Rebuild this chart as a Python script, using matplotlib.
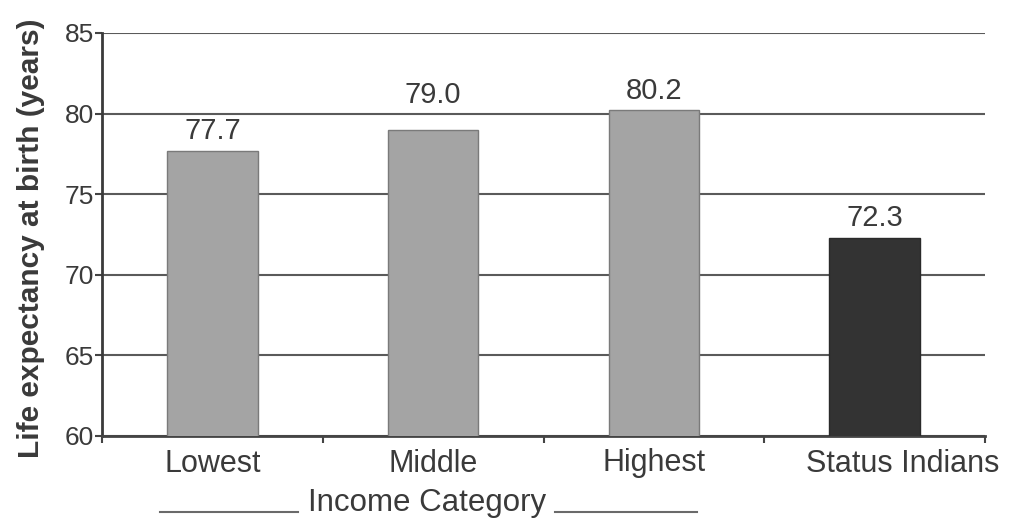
import matplotlib
matplotlib.use("Agg")
import matplotlib.pyplot as plt
import matplotlib.transforms as mtransforms
from matplotlib.lines import Line2D

# Life expectancy at birth by income category
categories = ["Lowest", "Middle", "Highest", "Status Indians"]
life_expectancy = [77.7, 79.0, 80.2, 72.3]
value_labels = ["77.7", "79.0", "80.2", "72.3"]
bar_colors = ["#a4a4a4", "#a4a4a4", "#a4a4a4", "#333333"]
edge_colors = ["#7a7a7a", "#7a7a7a", "#7a7a7a", "#2a2a2a"]
y_ticks = [60, 65, 70, 75, 80, 85]

# label lift above each bar (points); the Middle label clears the 80 gridline
label_lift = [4, 15, 4, 4]

plt.rcParams["font.family"] = ["Liberation Sans", "DejaVu Sans"]
text_color = "#3a3a3a"

fig = plt.figure(figsize=(10.13, 5.18), dpi=100)
ax = fig.add_axes([102 / 1013, 1 - 436 / 518, (985 - 102) / 1013, (436 - 33) / 518])

x = list(range(len(categories)))
ax.bar(x, life_expectancy, width=0.41, color=bar_colors, edgecolor=edge_colors,
       linewidth=1.0, zorder=3)

for xi, v, lab, lift in zip(x, life_expectancy, value_labels, label_lift):
    ax.annotate(lab, (xi, v), xytext=(0, lift), textcoords="offset points",
                ha="center", va="bottom", fontsize=21, color=text_color, zorder=4)

ax.set_ylim(60, 85)
ax.set_xlim(-0.5, len(categories) - 0.5)
ax.set_yticks(y_ticks)
ax.set_yticklabels([str(t) for t in y_ticks], fontsize=19, color=text_color)

# category boundaries carry the ticks, labels sit at the bar centres
ax.set_xticks([i - 0.5 for i in range(len(categories) + 1)])
ax.set_xticklabels([])
ax.set_xticks(x, minor=True)
ax.set_xticklabels(categories, minor=True, fontsize=22, color=text_color)
ax.tick_params(axis="x", which="minor", length=0, pad=9)
ax.tick_params(axis="x", which="major", length=5, width=1.5, color="#444444",
               direction="out")
ax.tick_params(axis="y", length=5, width=1.5, color="#444444", pad=1)

# the last category label runs out towards the right edge
last = ax.get_xticklabels(minor=True)[-1]
last.set_transform(last.get_transform() +
                   mtransforms.ScaledTranslation(28 / 100, 0, fig.dpi_scale_trans))

ax.grid(axis="y", color="#5a5a5a", linewidth=1.5, zorder=1)
ax.set_axisbelow(True)

for side in ("top", "right"):
    ax.spines[side].set_visible(False)
ax.spines["left"].set_color("#3a3a3a")
ax.spines["left"].set_linewidth(2.0)
ax.spines["bottom"].set_color("#444444")
ax.spines["bottom"].set_linewidth(2.0)

ax.set_ylabel("Life expectancy at birth (years)", fontsize=21.5, fontweight="bold",
              color=text_color)
ax.yaxis.set_label_coords(-0.064, 0.49)

# group caption under the income categories, framed by two rules
fig.text(427 / 1013, 1 - 511 / 518, "Income Category", ha="center", va="baseline",
         fontsize=22.5, color=text_color)
for x0, x1 in [(160, 298), (555, 697)]:
    fig.add_artist(Line2D([x0 / 1013, x1 / 1013], [1 - 512 / 518, 1 - 512 / 518],
                          transform=fig.transFigure, color="#6a6a6a", linewidth=1.5))

fig.savefig("out.png", dpi=100)
